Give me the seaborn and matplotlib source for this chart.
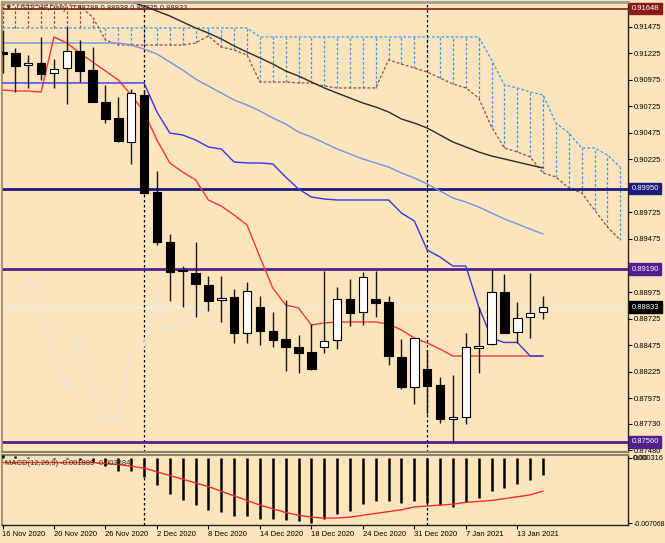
import numpy as np
import matplotlib
matplotlib.use("Agg")
import matplotlib.pyplot as plt
import matplotlib.transforms as mtransforms
import seaborn as sns

# ---------------- data ----------------
bar_dates = ["16 Nov 2020", "17 Nov 2020", "18 Nov 2020", "19 Nov 2020", "20 Nov 2020",
             "23 Nov 2020", "24 Nov 2020", "25 Nov 2020", "26 Nov 2020", "27 Nov 2020",
             "30 Nov 2020", "1 Dec 2020", "2 Dec 2020", "3 Dec 2020", "4 Dec 2020",
             "7 Dec 2020", "8 Dec 2020", "9 Dec 2020", "10 Dec 2020", "11 Dec 2020",
             "14 Dec 2020", "15 Dec 2020", "16 Dec 2020", "17 Dec 2020", "18 Dec 2020",
             "21 Dec 2020", "22 Dec 2020", "23 Dec 2020", "24 Dec 2020",
             "28 Dec 2020", "29 Dec 2020", "30 Dec 2020", "31 Dec 2020",
             "4 Jan 2021", "5 Jan 2021", "6 Jan 2021", "7 Jan 2021", "8 Jan 2021",
             "11 Jan 2021", "12 Jan 2021", "13 Jan 2021", "14 Jan 2021", "15 Jan 2021"]

opens = [0.91239, 0.91227, 0.91117, 0.91133, 0.91038, 0.91085, 0.91251, 0.91069, 0.90770, 0.90614,
         0.90390, 0.90834, 0.89916, 0.89444, 0.89178, 0.89151, 0.89041, 0.88897, 0.88928, 0.88585,
         0.88831, 0.88610, 0.88529, 0.88459, 0.88406, 0.88453, 0.88519, 0.88912, 0.88784, 0.88906,
         0.88884, 0.88365, 0.88082, 0.88249, 0.88098, 0.87774, 0.87799, 0.88447, 0.88484, 0.88972,
         0.88598, 0.88736, 0.88788]
highs = [0.91447, 0.91277, 0.91211, 0.91381, 0.91173, 0.91475, 0.91352, 0.91289, 0.90928, 0.90815,
         0.90887, 0.90881, 0.90119, 0.89522, 0.89220, 0.89444, 0.89126, 0.89126, 0.89000, 0.89072,
         0.88937, 0.88789, 0.88900, 0.88567, 0.88670, 0.89176, 0.89025, 0.89095, 0.89164, 0.89176,
         0.88937, 0.88529, 0.88541, 0.88428, 0.88176, 0.88192, 0.88585, 0.88831, 0.89189, 0.89145,
         0.88878, 0.89157, 0.88938]
lows = [0.91041, 0.90862, 0.90900, 0.90975, 0.90900, 0.90749, 0.90959, 0.90763, 0.90572, 0.90393,
        0.90183, 0.89904, 0.89418, 0.88893, 0.88831, 0.88736, 0.88799, 0.88689, 0.88497, 0.88491,
        0.88475, 0.88453, 0.88233, 0.88208, 0.88239, 0.88402, 0.88434, 0.88654, 0.88667, 0.88742,
        0.88286, 0.88057, 0.87918, 0.87824, 0.87736, 0.87553, 0.87730, 0.88208, 0.88475, 0.88584,
        0.88497, 0.88538, 0.88725]
closes = [0.91220, 0.91110, 0.91138, 0.91029, 0.91076, 0.91249, 0.91063, 0.90770, 0.90610, 0.90400,
          0.90850, 0.89912, 0.89450, 0.89167, 0.89169, 0.89051, 0.88893, 0.88921, 0.88585, 0.88987,
          0.88610, 0.88522, 0.88459, 0.88402, 0.88251, 0.88516, 0.88912, 0.88774, 0.89119, 0.88874,
          0.88371, 0.88082, 0.88538, 0.88091, 0.87774, 0.87799, 0.88459, 0.88468, 0.88972, 0.88591,
          0.88733, 0.88774, 0.88833]

tenkan = [0.90881, 0.90871, 0.90871, 0.90862, 0.91381, 0.91324, 0.91230, 0.91145, 0.91060, 0.90975,
          0.90834, 0.90673, 0.90409, 0.90192, 0.90107, 0.90032, 0.89843, 0.89786, 0.89701, 0.89607,
          0.89305, 0.89013, 0.88852, 0.88824, 0.88664, 0.88683, 0.88692, 0.88692, 0.88692, 0.88692,
          0.88673, 0.88617, 0.88541, 0.88494, 0.88437, 0.88371, 0.88371, 0.88371, 0.88371, 0.88371,
          0.88371, 0.88371, 0.88371]
kijun = [0.90947, 0.90947, 0.90947, 0.90947, 0.90947, 0.90947, 0.90947, 0.90947, 0.90947, 0.90947,
         0.90947, 0.90947, 0.90673, 0.90475, 0.90456, 0.90409, 0.90343, 0.90324, 0.90201, 0.90192,
         0.90192, 0.90183, 0.90060, 0.89947, 0.89871, 0.89852, 0.89843, 0.89843, 0.89843, 0.89843,
         0.89843, 0.89720, 0.89645, 0.89371, 0.89305, 0.89220, 0.89220, 0.88836, 0.88538, 0.88499,
         0.88499, 0.88371, 0.88371]
ma_fast = [0.91324, 0.91324, 0.91324, 0.91324, 0.91324, 0.91324, 0.91324, 0.91324, 0.91324, 0.91324,
           0.91305, 0.91267, 0.91220, 0.91145, 0.91069, 0.90984, 0.90918, 0.90852, 0.90786, 0.90739,
           0.90683, 0.90617, 0.90560, 0.90484, 0.90437, 0.90381, 0.90324, 0.90277, 0.90230, 0.90192,
           0.90154, 0.90098, 0.90051, 0.89994, 0.89928, 0.89862, 0.89824, 0.89777, 0.89720, 0.89664,
           0.89617, 0.89569, 0.89522]
ma_slow = [None, None, None, None, None, None, None, None, 0.91805, 0.91758,
           0.91711, 0.91673, 0.91626, 0.91579, 0.91522, 0.91466, 0.91418, 0.91362, 0.91296, 0.91239,
           0.91183, 0.91126, 0.91060, 0.91013, 0.90956, 0.90900, 0.90852, 0.90805, 0.90758, 0.90720,
           0.90673, 0.90607, 0.90569, 0.90522, 0.90456, 0.90390, 0.90343, 0.90296, 0.90258, 0.90230,
           0.90201, 0.90173, 0.90145]

span_a = [0.91466, 0.91466, 0.91466, 0.91466, 0.91466, 0.91466, 0.91466, 0.91466, 0.91466, 0.91466,
          0.91466, 0.91466, 0.91466, 0.91466, 0.91466, 0.91466, 0.91466, 0.91466, 0.91466, 0.91466,
          0.91381, 0.91381, 0.91381, 0.91381, 0.91381, 0.91381, 0.91381, 0.91381, 0.91381, 0.91381,
          0.91381, 0.91381, 0.91381, 0.91381, 0.91381, 0.91381, 0.91381, 0.91381, 0.91164, 0.90928,
          0.90900, 0.90862, 0.90834, 0.90569, 0.90475, 0.90334, 0.90334, 0.90268, 0.90154]
span_b = [0.91683, 0.91683, 0.91683, 0.91683, 0.91683, 0.91683, 0.91673, 0.91569, 0.91352, 0.91305,
          0.91305, 0.91305, 0.91305, 0.91305, 0.91305, 0.91324, 0.91390, 0.91286, 0.91258, 0.91211,
          0.90956, 0.90956, 0.90956, 0.90947, 0.90947, 0.90918, 0.90900, 0.90900, 0.90900, 0.90900,
          0.91164, 0.91126, 0.91088, 0.91050, 0.90994, 0.90937, 0.90900, 0.90805, 0.90532, 0.90334,
          0.90296, 0.90249, 0.90098, 0.90060, 0.89956, 0.89909, 0.89749, 0.89588, 0.89466]

macd_hist = [0.0003, 0.0002, 0.0001, 0.0000, -0.0001, -0.0001, -0.0002, -0.0004, -0.00082, -0.00136,
             -0.00142, -0.00207, -0.00296, -0.00386, -0.00450, -0.00511, -0.00564, -0.00589, -0.00629, -0.00629,
             -0.00660, -0.00660, -0.00670, -0.00680, -0.007068, -0.00664, -0.00609, -0.00572, -0.00499, -0.00467,
             -0.00467, -0.00492, -0.00467, -0.00492, -0.00504, -0.00528, -0.00475, -0.00431, -0.00356, -0.00321,
             -0.00278, -0.00244, -0.001889]
macd_signal = [-0.0005, -0.0005, -0.0005, -0.0005, -0.0005, -0.0005, -0.0005, -0.0005, -0.0006, -0.0007,
               -0.0009, -0.0011, -0.0015, -0.0019, -0.0023, -0.0027, -0.0031, -0.0036, -0.0041, -0.0046,
               -0.0051, -0.0055, -0.0059, -0.0062, -0.0064, -0.0065, -0.0065, -0.0064, -0.0062, -0.0060,
               -0.0058, -0.0056, -0.0053, -0.0052, -0.0051, -0.0050, -0.0048, -0.0047, -0.0046, -0.0044,
               -0.0042, -0.0040, -0.003584]

level_prices = [0.91648, 0.89950, 0.89190, 0.87560]
level_colors = ["#8B1A1A", "#1C1C7E", "#52208E", "#52208E"]
level_widths = [1.2, 2.0, 2.0, 2.0]

price_ticks = [0.91475, 0.91225, 0.90975, 0.90725, 0.90475, 0.90225, 0.89725, 0.89475,
               0.89225, 0.88975, 0.88725, 0.88475, 0.88225, 0.87975, 0.87730, 0.87480]
date_ticks = ["16 Nov 2020", "20 Nov 2020", "26 Nov 2020", "2 Dec 2020", "8 Dec 2020",
              "14 Dec 2020", "18 Dec 2020", "24 Dec 2020", "31 Dec 2020", "7 Jan 2021", "13 Jan 2021"]
separators = ["1 Dec 2020", "4 Jan 2021"]
chikou_shift = 26
title_text = "\u25bc  USDCHF,Daily  0.88788 0.88938 0.88725 0.88833"
macd_text = "MACD(12,26,9) -0.001889 -0.003584"

# ---------------- style ----------------
bg = "#FCE4BD"
sns.set_style("white")
plt.rcParams["font.family"] = ["Liberation Sans", "DejaVu Sans"]
plt.rcParams["font.size"] = 5.5

W, H = 665, 543
fig = plt.figure(figsize=(W / 100, H / 100), dpi=100, facecolor=bg)


def rect(l, t, r, b):
    return [l / W, 1 - b / H, (r - l) / W, (b - t) / H]


ax = fig.add_axes(rect(2, 2, 628, 452), facecolor=bg)
axm = fig.add_axes(rect(2, 455, 628, 525), facecolor=bg)

n = len(opens)
idx = np.arange(n)
cidx = np.arange(len(span_a))
o, h, l, c = (np.array(v, dtype=float) for v in (opens, highs, lows, closes))

blue_c = "#3A9AF2"
brown_c = "#A5443A"
dash = (0, (2.2, 1.6))

# cloud hatching
a = np.array(span_a)
b = np.array(span_b)
hatch_cols = np.where(a >= b, blue_c, brown_c)
ax.vlines(cidx, np.minimum(a, b), np.maximum(a, b), colors=hatch_cols,
          linestyles=dash, lw=0.9, zorder=1.6)
sns.lineplot(x=cidx, y=a, ax=ax, color=blue_c, lw=0.9, linestyle=dash, zorder=1.7)
sns.lineplot(x=cidx, y=b, ax=ax, color=brown_c, lw=0.9, linestyle=dash, zorder=1.7)

# current price line
ax.axhline(c[-1], color="#ECECEC", lw=1, zorder=1.5)

# horizontal levels
for val, col, lw in zip(level_prices, level_colors, level_widths):
    ax.axhline(val, color=col, lw=lw, zorder=2)

# chikou
ch_x = idx[chikou_shift:] - chikou_shift
sns.lineplot(x=ch_x, y=c[chikou_shift:], ax=ax, color="#EFE6D8", lw=1.4, zorder=2.2)

# moving averages and ichimoku lines
ms = np.array(ma_slow, dtype=float)
ok = np.isfinite(ms)
sns.lineplot(x=idx[ok], y=ms[ok], ax=ax, color="#2A2A2A", lw=1.0, zorder=2.4)
sns.lineplot(x=idx, y=ma_fast, ax=ax, color="#7391E6", lw=1.0, zorder=2.4)
sns.lineplot(x=idx, y=tenkan, ax=ax, color="#FF3535", lw=1.0, zorder=2.5)
sns.lineplot(x=idx, y=kijun, ax=ax, color="#3535F0", lw=1.0, zorder=2.6)

# separators
for s in separators:
    si = bar_dates.index(s)
    for axx in (ax, axm):
        axx.axvline(si, color="black", lw=0.9, ls=(0, (2, 2)), zorder=1.8)

# candles
ax.vlines(idx, l, h, color="#151515", lw=1.0, zorder=4)
up = c >= o
body_bot = np.minimum(o, c)
body_h = np.maximum(np.abs(c - o), 0.00005)
ax.bar(idx, body_h, bottom=body_bot, width=0.66,
       color=np.where(up, "white", "black"), edgecolor="black", linewidth=0.8, zorder=5)

# axes limits
x_left = (2 - 2.5) / 12.87
x_right = (628 - 2.5) / 12.87
ax.set_xlim(x_left, x_right)
axm.set_xlim(x_left, x_right)
ax.set_ylim(0.874656, 0.917108)
ax.set_xlabel("")
ax.set_ylabel("")

# price axis
ax.yaxis.tick_right()
ax.set_yticks(price_ticks)
ax.set_yticklabels([f"{v:.5f}" for v in price_ticks])
ax.tick_params(axis="y", length=3, width=0.8, pad=1.5, labelsize=5.5, colors="black",
               direction="out", right=True, left=False)
ax.set_xticks([])

trans = mtransforms.blended_transform_factory(ax.transAxes, ax.transData)
for val, col in zip(level_prices, level_colors):
    ax.text(1.006, val, f"{val:.5f}", transform=trans, color="white", fontsize=5.5,
            va="center", ha="left", zorder=10, clip_on=False,
            bbox=dict(boxstyle="square,pad=0.3", fc=col, ec=col))
ax.text(1.006, c[-1], f"{c[-1]:.5f}", transform=trans, color="white", fontsize=5.5,
        va="center", ha="left", zorder=10, clip_on=False,
        bbox=dict(boxstyle="square,pad=0.3", fc="black", ec="black"))

ax.text(0.005, 0.9845, title_text, transform=ax.transAxes, fontsize=5.5, color="#303030",
        va="center", ha="left", zorder=11)

# spines
for axx in (ax, axm):
    axx.spines["left"].set_color("#A08B6B")
    axx.spines["left"].set_linewidth(1.3)
    axx.spines["right"].set_color("#222222")
    axx.spines["right"].set_linewidth(1.0)
ax.spines["top"].set_color("#A29C94")
ax.spines["top"].set_linewidth(2.0)
ax.spines["bottom"].set_color("#8C8272")
ax.spines["bottom"].set_linewidth(1.5)
axm.spines["top"].set_color("#8C8272")
axm.spines["top"].set_linewidth(1.5)
axm.spines["bottom"].set_color("#222222")
axm.spines["bottom"].set_linewidth(1.0)

# MACD panel
axm.vlines(idx, 0, macd_hist, color="black", lw=1.8, zorder=3)
sns.lineplot(x=idx, y=macd_signal, ax=axm, color="#FF2A2A", lw=1.0, zorder=4)
axm.set_ylim(-0.00725, 0.000316)
axm.set_xlabel("")
axm.set_ylabel("")
axm.yaxis.tick_right()
axm.set_yticks([0.0, -0.007068])
axm.set_yticklabels(["0.00", "-0.007068"])
axm.tick_params(axis="y", length=3, width=0.8, pad=1.0, labelsize=5.5, colors="black",
                direction="out", right=True, left=False)
for lab in axm.get_yticklabels():
    if lab.get_text().startswith("-"):
        lab.set_fontsize(5.0)
transm = mtransforms.blended_transform_factory(axm.transAxes, axm.transData)
axm.text(1.0 + 4.5 / 626, 0.000316, "0.000316", transform=transm, fontsize=5.3, color="black",
         va="top", ha="left", clip_on=False)
axm.text(0.005, 0.88, macd_text, transform=axm.transAxes, fontsize=5.5, color="#303030",
         va="center", ha="left", zorder=11)

tick_pos = [bar_dates.index(d) for d in date_ticks]
axm.set_xticks(tick_pos)
axm.set_xticklabels(date_ticks, ha="left")
axm.tick_params(axis="x", length=3, width=0.8, pad=1.5, labelsize=5.5, colors="black",
                direction="out", bottom=True)

fig.savefig("out.png", dpi=100, facecolor=bg)
